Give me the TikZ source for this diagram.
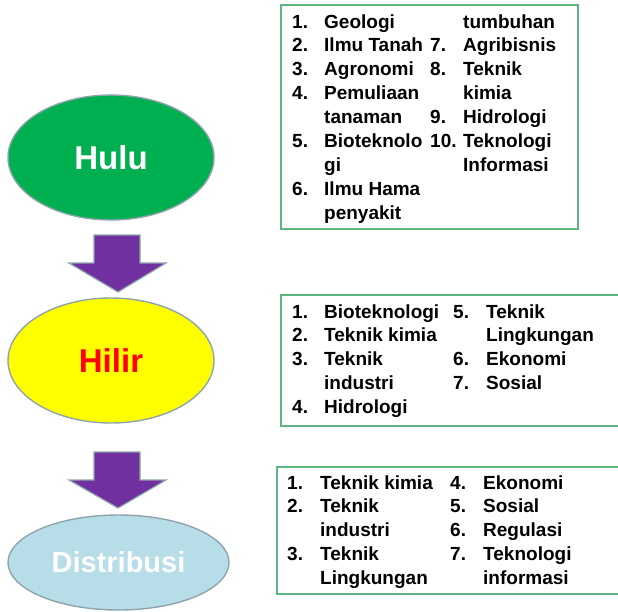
\documentclass[tikz,border=0pt]{standalone}
\usepackage{fontspec}
\setmainfont{Liberation Sans}
\usetikzlibrary{shapes.geometric}
\definecolor{huluG}{HTML}{00B050}
\definecolor{hilirY}{HTML}{FFFF00}
\definecolor{distB}{HTML}{B7DEE8}
\definecolor{edgeG}{HTML}{8FA3AD}
\definecolor{arrP}{HTML}{7030A0}
\definecolor{boxG}{HTML}{5DB57F}
\newcommand{\lst}[2]{\fontsize{19}{23.9}\selectfont\bfseries\begin{tabular}[t]{@{}p{#1}@{}l@{}}#2\end{tabular}}
\tikzset{
  stage/.style={ellipse, draw=edgeG, line width=1.4pt, inner sep=0pt, font=\fontsize{33}{36}\selectfont\bfseries},
  listbox/.style={draw=boxG, line width=1.4pt},
  bigarrow/.style={fill=arrP, draw=edgeG, line width=1.2pt, line join=miter},
  listcol/.style={anchor=base west, inner sep=0pt, align=left}
}
\begin{document}
\begin{tikzpicture}[x=1pt,y=-1pt]
\useasboundingbox (0,0) rectangle (618,611);
% stages
\node[stage, fill=huluG, text=white, minimum width=206pt, minimum height=125pt] (hulu) at (111,157.5) {Hulu};
\node[stage, fill=hilirY, text=red, minimum width=206pt, minimum height=125pt] (hilir) at (111,360.5) {Hilir};
\node[stage, fill=distB, text=white, minimum width=221pt, minimum height=95pt, font=\fontsize{29}{32}\selectfont\bfseries] (dist) at (118.5,562.5) {Distribusi};
% arrows
\draw[bigarrow] (94,235) -- (140,235) -- (140,263) -- (166,263) -- (118,292) -- (69,263) -- (94,263) -- cycle;
\draw[bigarrow] (94,452) -- (140,452) -- (140,480) -- (166,480) -- (118,508) -- (69,480) -- (94,480) -- cycle;
% boxes
\draw[listbox] (281,5) rectangle (578,229);
\draw[listbox] (281,295) rectangle (622,426);
\draw[listbox] (277,467) rectangle (622,594);
% box 1
\node[listcol] (b1a) at (292,28) {\lst{32pt}{1. & Geologi\\ 2. & Ilmu Tanah\\ 3. & Agronomi\\ 4. & Pemuliaan\\ & tanaman\\ 5. & Bioteknolo\\ & gi\\ 6. & Ilmu Hama\\ & penyakit}};
\node[listcol] (b1b) at (430,28) {\lst{33pt}{ & tumbuhan\\ 7. & Agribisnis\\ 8. & Teknik\\ & kimia\\ 9. & Hidrologi\\ 10. & Teknologi\\ & Informasi}};
% box 2
\node[listcol] (b2a) at (292,318) {\lst{32pt}{1. & Bioteknologi\\ 2. & Teknik kimia\\ 3. & Teknik\\ & industri\\ 4. & Hidrologi}};
\node[listcol] (b2b) at (453,318) {\lst{33pt}{5. & Teknik\\ & Lingkungan\\ 6. & Ekonomi\\ 7. & Sosial}};
% box 3
\node[listcol] (b3a) at (287,489) {\lst{33pt}{1. & Teknik kimia\\ 2. & Teknik\\ & industri\\ 3. & Teknik\\ & Lingkungan}};
\node[listcol] (b3b) at (450,489) {\lst{33pt}{4. & Ekonomi\\ 5. & Sosial\\ 6. & Regulasi\\ 7. & Teknologi\\ & informasi}};
\end{tikzpicture}
\end{document}
